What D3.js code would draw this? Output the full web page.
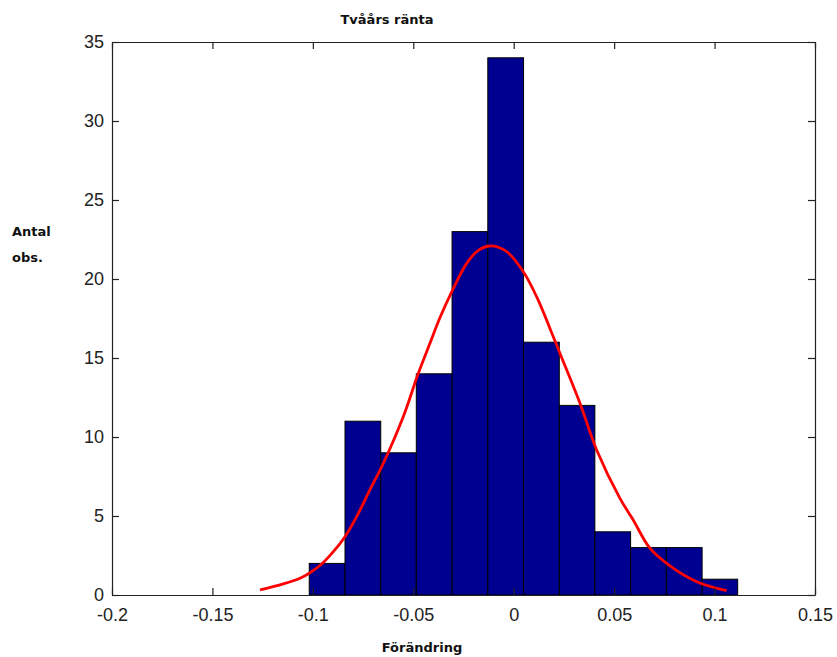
<!DOCTYPE html>
<html lang="sv">
<head>
<meta charset="UTF-8">
<title>Tvåårs ränta</title>
<script src="https://cdn.jsdelivr.net/npm/d3@7"></script>
<style>
  body { margin: 0; background: #fff; }
  .tick text { font-family: "Liberation Sans", Arial, sans-serif; font-size: 18px; fill: #222; }
  .lbl { font-family: "DejaVu Sans", sans-serif; font-weight: bold; font-size: 13px; fill: #111; }
</style>
</head>
<body>
<svg width="837" height="657"></svg>
<script>
  // histogramdata
  var binEdges = [-0.1018, -0.0840, -0.0662, -0.0485, -0.0307, -0.0129, 0.0049,
                  0.0227, 0.0404, 0.0582, 0.0760, 0.0938, 0.1115];
  var counts = [2, 11, 9, 14, 23, 34, 16, 12, 4, 3, 3, 1];

  // anpassad normalkurva (avläst)
  var curveX = [-0.1263, -0.1147, -0.1064, -0.1014, -0.0956, -0.0898, -0.0840, -0.0782,
                -0.0716, -0.0649, -0.0550, -0.0475, -0.0417, -0.0367, -0.0307, -0.0234,
                -0.0178, -0.0118, -0.0035, 0.0048, 0.0114, 0.0197, 0.0230, 0.0330,
                0.0413, 0.0529, 0.0595, 0.0678, 0.0778, 0.0911, 0.1060];
  var curveY = [0.32, 0.70, 1.06, 1.41, 1.96, 2.74, 3.69, 4.96,
                6.65, 8.34, 11.28, 14.03, 15.93, 17.56, 19.24, 20.99,
                21.80, 22.09, 21.73, 20.46, 18.88, 16.35, 15.30, 12.13,
                9.18, 6.12, 4.75, 2.96, 1.84, 0.84, 0.27];

  var xTicks = [-0.2, -0.15, -0.1, -0.05, 0, 0.05, 0.1, 0.15];
  var yTicks = [0, 5, 10, 15, 20, 25, 30, 35];

  var svg = d3.select("svg");
  var pLeft = 112, pRight = 815, pTop = 42, pBottom = 595;

  var x = d3.scaleLinear().domain([-0.2, 0.15]).range([pLeft, pRight]);
  var y = d3.scaleLinear().domain([0, 35]).range([pBottom, pTop]);

  //staplar
  var bins = counts.map(function (c, i) {
    return { x0: binEdges[i], x1: binEdges[i + 1], n: c };
  });
  svg.append("g")
    .selectAll("rect")
    .data(bins)
    .enter().append("rect")
    .attr("x", function (d) { return x(d.x0); })
    .attr("width", function (d) { return x(d.x1) - x(d.x0); })
    .attr("y", function (d) { return y(d.n); })
    .attr("height", function (d) { return y(0) - y(d.n); })
    .attr("fill", "#000090")
    .attr("stroke", "#000")
    .attr("stroke-width", 1);

  //kurva
  var pts = curveX.map(function (v, i) { return [v, curveY[i]]; });
  svg.append("path")
    .datum(pts)
    .attr("fill", "none")
    .attr("stroke", "#ff0000")
    .attr("stroke-width", 2.8)
    .attr("d", d3.line()
      .x(function (d) { return x(d[0]); })
      .y(function (d) { return y(d[1]); })
      .curve(d3.curveCatmullRom));

  //axlar
  var fmt = function (d) { return String(d); };
  svg.append("g")
    .attr("transform", "translate(0," + pBottom + ")")
    .call(d3.axisBottom(x).tickValues(xTicks).tickFormat(fmt)
      .tickSizeInner(-7).tickSizeOuter(0).tickPadding(13));
  svg.append("g")
    .attr("transform", "translate(0," + pTop + ")")
    .call(d3.axisTop(x).tickValues(xTicks).tickFormat("")
      .tickSizeInner(-7).tickSizeOuter(0));
  svg.append("g")
    .attr("transform", "translate(" + pLeft + ",0)")
    .call(d3.axisLeft(y).tickValues(yTicks).tickFormat(fmt)
      .tickSizeInner(-7).tickSizeOuter(0).tickPadding(8));
  svg.append("g")
    .attr("transform", "translate(" + pRight + ",0)")
    .call(d3.axisRight(y).tickValues(yTicks).tickFormat("")
      .tickSizeInner(-7).tickSizeOuter(0));
  svg.selectAll(".domain, .tick line").attr("stroke", "#222").attr("stroke-width", 1.2);

  //texter
  svg.append("text").attr("class", "lbl")
    .attr("x", 387).attr("y", 24).attr("text-anchor", "middle")
    .text("Tvåårs ränta");
  svg.append("text").attr("class", "lbl")
    .attr("x", 422).attr("y", 652).attr("text-anchor", "middle")
    .text("Förändring");
  svg.append("text").attr("class", "lbl")
    .attr("x", 12).attr("y", 236).text("Antal");
  svg.append("text").attr("class", "lbl")
    .attr("x", 12).attr("y", 262).text("obs.");
</script>
</body>
</html>
